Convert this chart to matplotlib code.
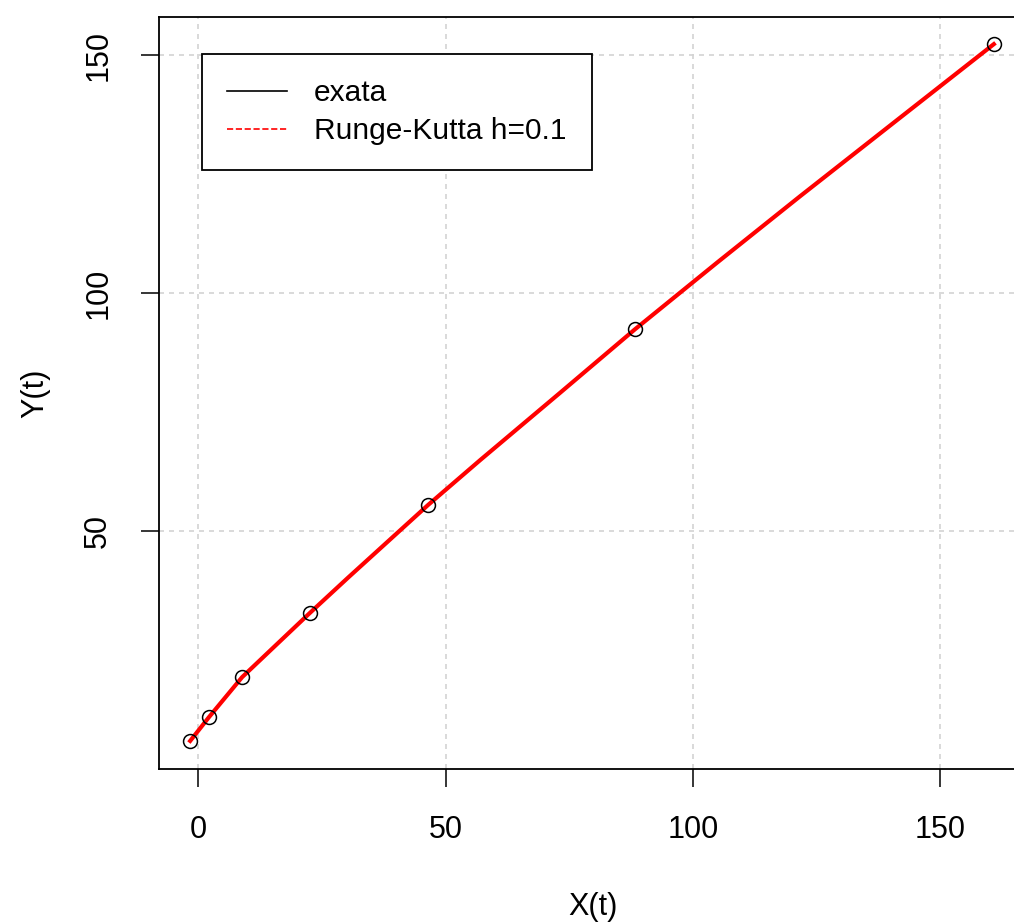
import matplotlib.pyplot as plt

plt.rcParams['font.family'] = ['Liberation Sans', 'DejaVu Sans']

# values
x_exata = [-1.6, 2.2, 8.9, 22.6, 30.3, 46.5, 57.0, 73.1, 88.3, 105.0, 121.6, 141.8, 160.8]
y_exata = [5.9, 10.9, 19.3, 32.8, 40.2, 55.5, 64.9, 79.0, 92.4, 106.5, 120.3, 136.8, 152.3]
x_rk = [-1.6, 2.2, 8.9, 22.6, 30.3, 46.5, 57.0, 73.1, 88.3, 105.0, 121.6, 141.8, 160.8]
y_rk = [5.9, 10.9, 19.3, 32.8, 40.2, 55.5, 64.9, 79.0, 92.4, 106.5, 120.3, 136.8, 152.3]
x_pts = [-1.6, 2.2, 8.9, 22.6, 46.5, 88.3, 160.8]
y_pts = [5.9, 10.9, 19.3, 32.8, 55.5, 92.4, 152.3]
ticks = [0, 50, 100, 150]

W, H = 1014, 922
fig = plt.figure(figsize=(W / 100, H / 100), dpi=100)
ax = fig.add_axes([159 / W, (H - 769) / H, 868 / W, 752 / H])

ax.plot(x_exata, y_exata, color='black', lw=1.2, label='exata', zorder=2)
ax.plot(x_rk, y_rk, color='red', lw=3, zorder=3)
ax.plot([], [], color='red', lw=1.2, ls='--', label='Runge-Kutta h=0.1')
ax.plot(x_pts, y_pts, 'o', mfc='none', mec='black', ms=10, mew=1.1, zorder=4)

ax.set_xlim(-7.9, 167.5)
ax.set_ylim(0, 158)
ax.set_xticks(ticks)
ax.set_yticks(ticks[1:])
ax.grid(True, color='#d3d3d3', ls=(0, (3, 3)), lw=1.2)
for s in ax.spines.values():
    s.set_linewidth(1.3)
ax.tick_params(direction='out', length=13, width=1.1, labelsize=22, pad=20)
for lab in ax.get_yticklabels():
    lab.set_rotation(90)
    lab.set_va('center')

ax.set_xlabel('X(t)', fontsize=22, labelpad=34)
ax.set_ylabel('Y(t)', fontsize=22, labelpad=24)

leg = ax.legend(loc='upper left', bbox_to_anchor=(0.0495, 0.951), borderaxespad=0,
                fontsize=21.5, handlelength=2.0, handletextpad=0.9, labelspacing=0.33,
                borderpad=0.85, fancybox=False, framealpha=1, edgecolor='black')
leg.get_frame().set_linewidth(1.3)

fig.savefig('out.png', dpi=100)
